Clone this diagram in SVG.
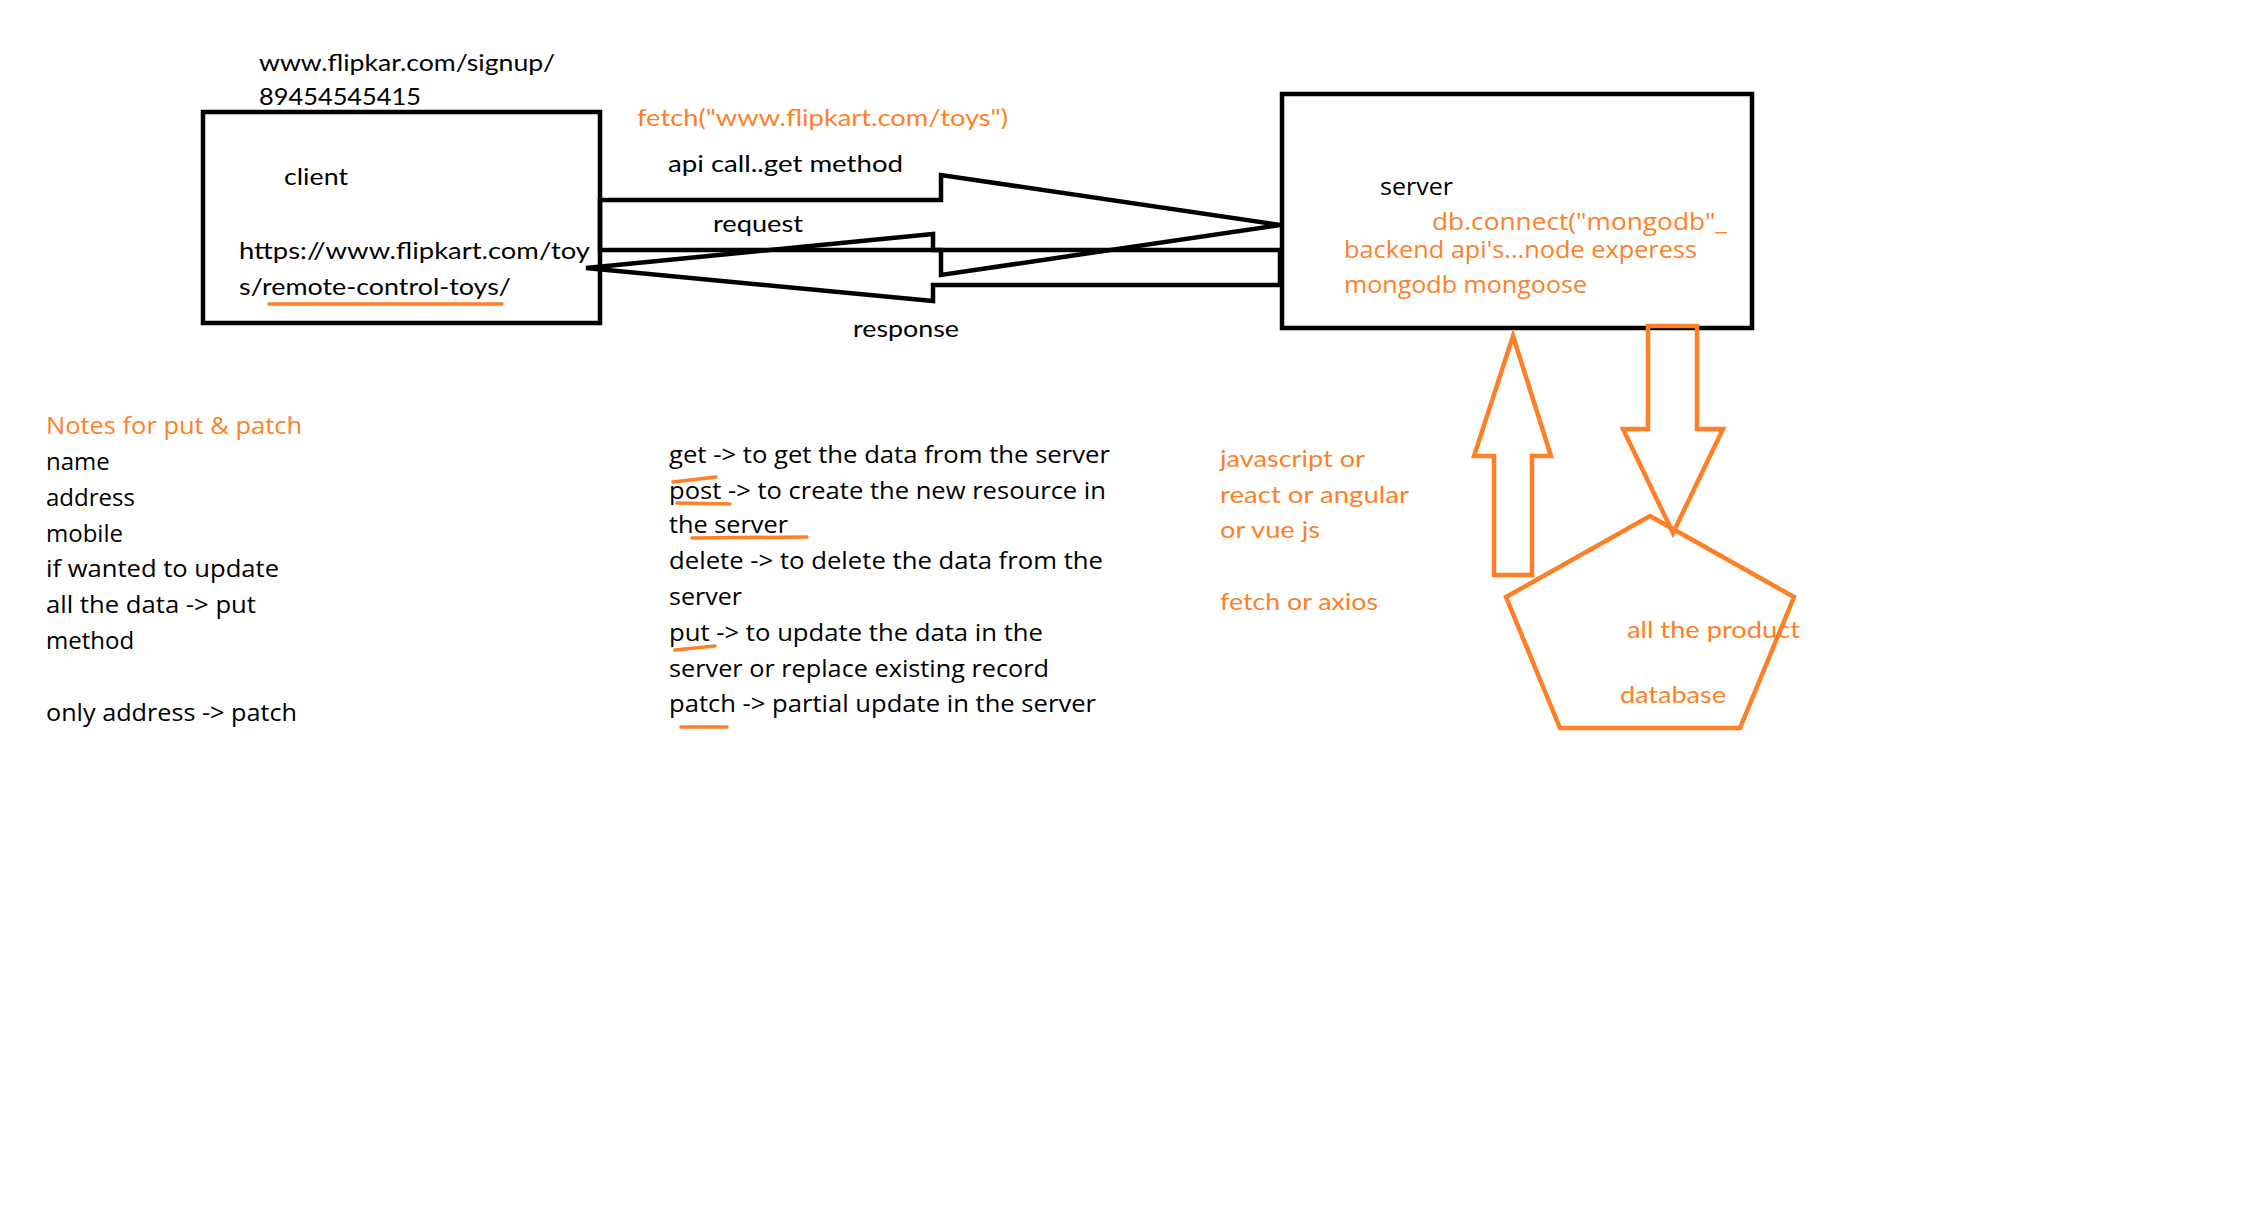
<svg xmlns="http://www.w3.org/2000/svg" width="2268" height="1216" viewBox="0 0 2268 1216">
<style>
.c{font-family:Lato,"Liberation Sans",sans-serif;font-size:23px;fill:#000}
.s{font-family:"Open Sans","Noto Sans",sans-serif;font-size:24px;fill:#000}
.o{fill:#FF7F27}
.box{fill:none;stroke:#000;stroke-width:4.5}
.bl{fill:none;stroke:#000;stroke-width:4.5;stroke-linejoin:miter}
.ol{fill:none;stroke:#FF7F27;stroke-width:4.5;stroke-linejoin:miter}
.ul{fill:none;stroke:#FF7F27;stroke-width:3.5;stroke-linecap:round}
</style>
<rect width="2268" height="1216" fill="#fff"/>

<g id="top-note">
<text class="c" x="259" y="71" textLength="296" lengthAdjust="spacingAndGlyphs">www.flipkar.com/signup/</text>
<text class="c" x="259" y="105" textLength="162" lengthAdjust="spacingAndGlyphs">89454545415</text>
</g>

<g id="client">
<rect class="box" x="203" y="112" width="397" height="211"/>
<text class="c" x="284" y="185" textLength="64" lengthAdjust="spacingAndGlyphs">client</text>
<text class="c" x="239" y="259" textLength="351" lengthAdjust="spacingAndGlyphs">https://www.flipkart.com/toy</text>
<text class="c" x="239" y="295" textLength="272" lengthAdjust="spacingAndGlyphs">s/remote-control-toys/</text>
<line class="ul" x1="269" y1="304" x2="502" y2="304"/>
</g>

<g id="server">
<rect class="box" x="1282" y="94" width="470" height="234"/>
<text class="s" x="1380" y="195" textLength="73" lengthAdjust="spacingAndGlyphs">server</text>
<text class="s o" x="1432" y="230" textLength="295" lengthAdjust="spacingAndGlyphs">db.connect("mongodb"_</text>
<text class="s o" x="1344" y="258" textLength="353" lengthAdjust="spacingAndGlyphs">backend api's...node experess</text>
<text class="s o" x="1344" y="293" textLength="243" lengthAdjust="spacingAndGlyphs">mongodb mongoose</text>
</g>

<g id="database">
<polygon class="ol" points="1650,516 1794,597 1740,728 1560,728 1506,597"/>
<text class="c o" x="1627" y="638" textLength="173" lengthAdjust="spacingAndGlyphs">all the product</text>
<text class="c o" x="1620" y="703" textLength="106" lengthAdjust="spacingAndGlyphs">database</text>
</g>

<g id="connectors">
<polygon class="bl" points="600,200 941,200 941,175 1280,225 941,275 941,250 600,250"/>
<polygon class="bl" points="1280,250 933,250 933,234 586,268 933,301 933,285 1280,285"/>
<polygon class="ol" points="1513,336 1551,456 1532,456 1532,575 1494,575 1494,456 1474,456"/>
<polygon class="ol" points="1648,326 1697,326 1697,429 1723,429 1673,533 1623,429 1648,429"/>
</g>

<g id="connector-labels">
<text class="c o" x="637" y="126" textLength="371" lengthAdjust="spacingAndGlyphs">fetch("www.flipkart.com/toys")</text>
<text class="c" x="668" y="172" textLength="235" lengthAdjust="spacingAndGlyphs">api call..get method</text>
<text class="c" x="713" y="232" textLength="90" lengthAdjust="spacingAndGlyphs">request</text>
<text class="c" x="853" y="337" textLength="106" lengthAdjust="spacingAndGlyphs">response</text>
</g>

<g id="frontend-note">
<text class="c o" x="1220" y="467" textLength="145" lengthAdjust="spacingAndGlyphs">javascript or</text>
<text class="c o" x="1220" y="503" textLength="189" lengthAdjust="spacingAndGlyphs">react or angular</text>
<text class="c o" x="1220" y="538" textLength="100" lengthAdjust="spacingAndGlyphs">or vue js</text>
<text class="c o" x="1220" y="610" textLength="158" lengthAdjust="spacingAndGlyphs">fetch or axios</text>
</g>

<g id="notes">
<text class="s o" x="46" y="434" textLength="256" lengthAdjust="spacingAndGlyphs">Notes for put &amp; patch</text>
<text class="s" x="46" y="470">name</text>
<text class="s" x="46" y="506">address</text>
<text class="s" x="46" y="542">mobile</text>
<text class="s" x="46" y="577" textLength="233" lengthAdjust="spacingAndGlyphs">if wanted to update</text>
<text class="s" x="46" y="613" textLength="210" lengthAdjust="spacingAndGlyphs">all the data -&gt; put</text>
<text class="s" x="46" y="649">method</text>
<text class="s" x="46" y="721" textLength="251" lengthAdjust="spacingAndGlyphs">only address -&gt; patch</text>
</g>

<g id="methods">
<text class="s" x="669" y="463" textLength="441" lengthAdjust="spacingAndGlyphs">get -&gt; to get the data from the server</text>
<text class="s" x="669" y="499" textLength="437" lengthAdjust="spacingAndGlyphs">post -&gt; to create the new resource in</text>
<text class="s" x="669" y="533" textLength="119" lengthAdjust="spacingAndGlyphs">the server</text>
<text class="s" x="669" y="569" textLength="434" lengthAdjust="spacingAndGlyphs">delete -&gt; to delete the data from the</text>
<text class="s" x="669" y="605" textLength="73" lengthAdjust="spacingAndGlyphs">server</text>
<text class="s" x="669" y="641" textLength="374" lengthAdjust="spacingAndGlyphs">put -&gt; to update the data in the</text>
<text class="s" x="669" y="677" textLength="380" lengthAdjust="spacingAndGlyphs">server or replace existing record</text>
<text class="s" x="669" y="712" textLength="427" lengthAdjust="spacingAndGlyphs">patch -&gt; partial update in the server</text>
<path class="ul" d="M673,482 L716,477"/>
<path class="ul" d="M677,503 L730,504"/>
<path class="ul" d="M692,538 L807,537"/>
<path class="ul" d="M675,650 L715,646"/>
<path class="ul" d="M681,727 L727,727"/>
</g>
</svg>
